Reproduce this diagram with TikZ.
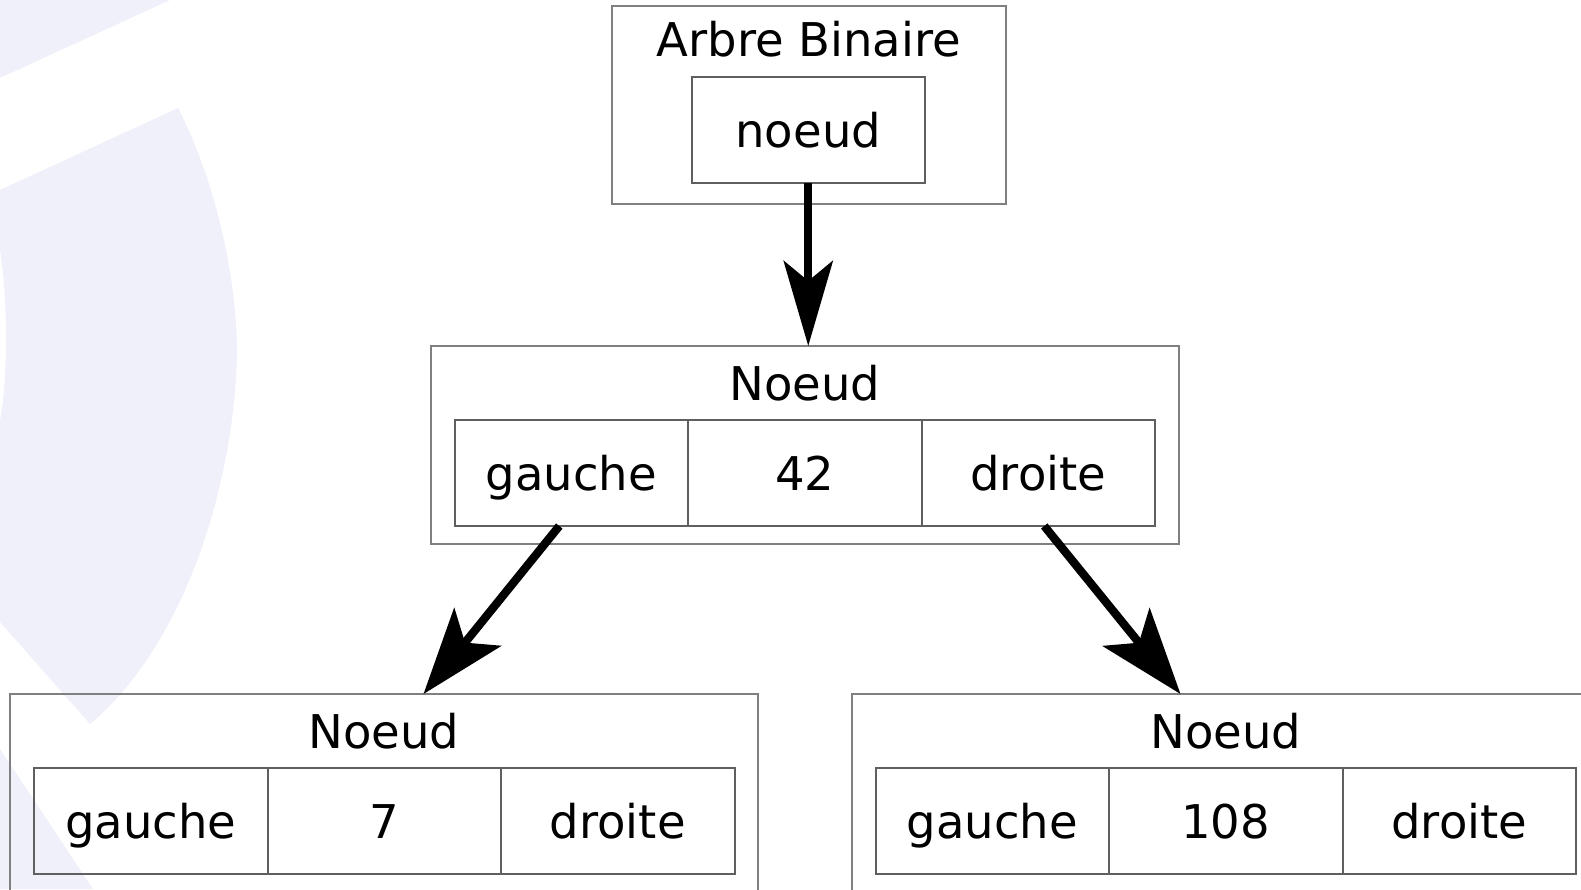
\documentclass[tikz,border=0pt]{standalone}
\usepackage{fontspec}
\setmainfont{DejaVu Sans}
\usetikzlibrary{arrows.meta}
\definecolor{wm}{RGB}{240,240,251}
\definecolor{boxline}{RGB}{128,128,128}
\definecolor{cellline}{RGB}{95,95,95}
\begin{document}
\begin{tikzpicture}[x=1pt,y=-1pt,
  outer/.style={draw=boxline,line width=2pt,rectangle,inner sep=0pt,outer sep=0pt},
  cell/.style={draw=cellline,line width=2pt,rectangle,inner sep=0pt,outer sep=0pt,
    minimum width=233.5pt,minimum height=106pt,text height=35pt,text depth=0pt,
    font=\fontsize{46.5pt}{50pt}\selectfont},
  lbl/.style={anchor=base,inner sep=0pt,font=\fontsize{46.5pt}{50pt}\selectfont},
  link/.style={line width=8.3pt,-{Stealth[length=85pt,width=49pt,inset=20pt]}},
  slink/.style={line width=8.3pt,-{Stealth[length=86pt,width=60pt,inset=20pt]}}]
\useasboundingbox (0,0) rectangle (1581,889);
\clip (0,0) rectangle (1581,889);
% watermark
\fill[wm] (0,0) -- (170,0) -- (0,78) -- cycle;
\fill[wm] (0,190) -- (178,108) .. controls (215,180) and (235,270) .. (237,345)
  .. controls (237,470) and (190,640) .. (90,724) -- (0,622) -- (0,420)
  .. controls (8,380) and (8,300) .. (0,250) -- cycle;
\fill[wm] (0,749) -- (93,889) -- (0,889) -- cycle;
% top
\node[outer,minimum width=394.5pt,minimum height=197.5pt] (top) at (808.75,104.75) {};
\node[lbl] (ttop) at (808.75,56.7) {Arbre Binaire};
\node[cell] (tc) at (808.25,130) {noeud};
% middle
\node[outer,minimum width=747.5pt,minimum height=197.5pt] (mid) at (804.75,444.75) {};
\node[lbl] (tmid) at (804.75,400.5) {Noeud};
\node[cell] (mg) at (571.25,473) {gauche};
\node[cell] (mv) at (804.75,473) {42};
\node[cell] (md) at (1038.25,473) {droite};
% bottom left
\node[outer,minimum width=748pt,minimum height=197pt] (bl) at (384,792.5) {};
\node[lbl] (tbl) at (384,748.5) {Noeud};
\node[cell] (lg) at (150.75,821) {gauche};
\node[cell] (lv) at (384.25,821) {7};
\node[cell] (ld) at (617.75,821) {droite};
% bottom right
\node[outer,minimum width=748pt,minimum height=197pt] (br) at (1226,792.5) {};
\node[lbl] (tbr) at (1226,748.5) {Noeud};
\node[cell] (rg) at (992.25,821) {gauche};
\node[cell] (rv) at (1225.75,821) {108};
\node[cell] (rd) at (1459.25,821) {droite};
% arrows
\draw[link] (tc.south) -- (tc.south |- mid.north);
\draw[slink] ([xshift=-12pt]mg.south) -- ([xshift=413.5pt]bl.north west);
\draw[slink] ([xshift=6pt]md.south) -- ([xshift=328.5pt]br.north west);
\end{tikzpicture}
\end{document}
